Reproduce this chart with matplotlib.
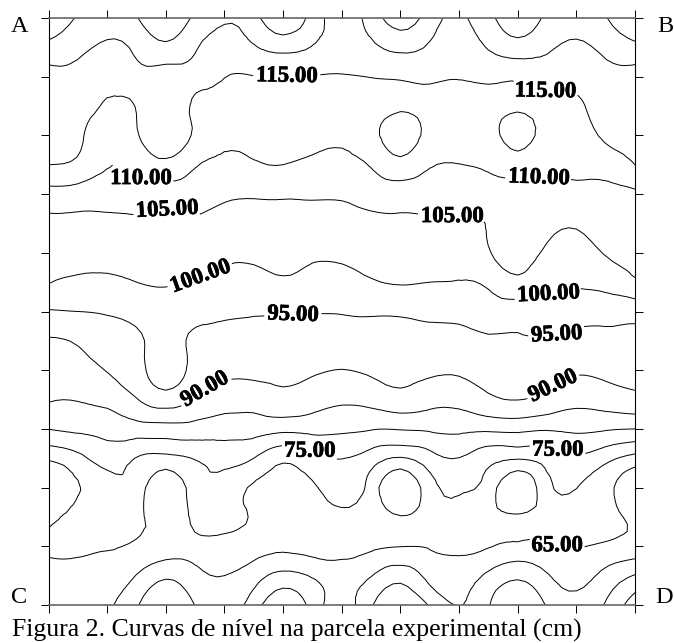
import numpy as np
import matplotlib
matplotlib.use("Agg")
import matplotlib.pyplot as plt
import matplotlib.patheffects as pe
import matplotlib.tri as mtri

plt.rcParams["font.family"] = ["Liberation Serif", "DejaVu Serif"]
plt.rcParams["font.weight"] = "bold"

# grid positions, half a tick apart
xgrid = np.arange(21) * 0.5
ygrid = np.arange(21) * 0.5

levels = [50, 55, 60, 65, 70, 75, 80, 85, 90, 95, 100, 105, 110, 115, 120, 125]

# heights (cm), one list per column, left to right,
# each one going from the top edge (A-B) to the bottom edge (C-D)
z_cols = [
    [129, 123.5, 118.3, 118, 117.5, 115, 108.1, 104, 102.1, 100.2, 94.6, 89.5, 87.4, 85.3, 80.1, 70.7, 65.5, 68.8, 70.6, 68.5, 66.5],
    [124.5, 121.3, 118.5, 117, 115.9, 113.9, 107.7, 104, 101.9, 99.2, 95, 90.5, 88.1, 85.2, 81, 73.5, 69.8, 71, 70.9, 68.5, 66.8],
    [122, 119.2, 116.8, 114.4, 112.5, 110.4, 107, 104, 101.5, 99.2, 95.5, 92.5, 90.2, 86.5, 81.7, 77, 72.5, 71.5, 70.3, 68, 65.8],
    [124.7, 121, 118.2, 115.2, 114.7, 111.3, 107.7, 104, 101.8, 100, 97, 94.1, 93.5, 89.7, 82.8, 74.8, 72.5, 71.5, 69.3, 64.8, 60.5],
    [128.5, 123.8, 118, 117.8, 116.8, 114, 107.2, 104, 102, 100.3, 98, 96.5, 96.8, 92.8, 83, 73.5, 66, 67, 67.8, 60.8, 56.5],
    [124, 120.5, 117.3, 114.2, 114.5, 110.5, 107, 104.3, 102.2, 99.7, 97, 94, 93.5, 89.5, 83, 75.3, 72.5, 71, 68.2, 63.5, 60.1],
    [120.6, 117.8, 115.1, 113, 111.2, 108.8, 105.8, 103.2, 101, 98.8, 95.8, 93.4, 91, 87.6, 82, 77, 72.5, 71, 68.5, 65, 62.5],
    [123.2, 119.5, 114.9, 113.1, 111.5, 109.5, 105.5, 103.2, 101.2, 98.2, 95.4, 93.2, 91.2, 87.2, 82, 75, 69.5, 69.6, 67.5, 62.2, 57.5],
    [129, 121.7, 114.9, 113.5, 112, 110, 105.6, 103.3, 101.4, 99.4, 95.4, 93.3, 91.4, 88.5, 81.4, 71, 67.5, 66.9, 66, 58.5, 50.5],
    [123, 119.7, 114.9, 113.2, 111.8, 108.9, 105.6, 103, 100.8, 98.3, 95.2, 93, 90.7, 87.1, 81.6, 73.6, 69.3, 68, 67, 60.5, 57],
    [118, 117.8, 114.7, 112.9, 111, 108.5, 105.6, 103.2, 101, 98.2, 95.3, 92.5, 89.9, 85.8, 81, 75.1, 72.2, 69.3, 67.4, 62.2, 62],
    [122, 118.9, 115.1, 113.5, 113.7, 110.4, 106.8, 103.7, 101.7, 99.6, 95.6, 92.9, 90.7, 86.7, 80.3, 72.5, 68, 67.9, 65.9, 60.2, 55.6],
    [127.5, 121.3, 115.4, 114.5, 116.8, 113.5, 107.3, 104.1, 102.2, 100.4, 95.7, 93.2, 91.4, 88.3, 80.3, 69.6, 60.5, 65.3, 65.1, 57, 50.5],
    [122.5, 119.3, 115.7, 114, 113.8, 110.5, 106.7, 104.4, 102.1, 100, 96.2, 93.4, 90.9, 86.8, 80.7, 73, 68, 67.7, 65.4, 61.6, 55.5],
    [119.3, 117.4, 115.2, 113.7, 112.2, 109.9, 106.8, 104.5, 102.2, 99.8, 96.5, 93.3, 90.7, 86.6, 81.1, 74.9, 70.7, 68.8, 66.4, 62.4, 60.2],
    [123.5, 120.4, 115.9, 113.9, 113.5, 110.9, 107.5, 105.2, 104.7, 101, 97.6, 94.2, 92, 89, 81, 71.7, 67.7, 66.6, 65.3, 59, 55.4],
    [128, 123, 115.7, 114.4, 116.2, 112.6, 108, 107.5, 106.6, 103.8, 97.5, 94.4, 92.3, 90.1, 81.3, 70.4, 60.8, 65.7, 64, 56, 50.7],
    [124, 121, 116.7, 114.2, 113.5, 111, 108.5, 106.4, 104.3, 101.5, 98, 94.5, 91.8, 88.5, 80.5, 72.2, 68.5, 67, 64.4, 59.5, 55.4],
    [122, 119.1, 116.5, 114.2, 112.8, 111.4, 108.5, 105.5, 103.2, 100.7, 97, 93.7, 90.7, 86.4, 81, 74.2, 70.1, 68, 65.3, 62, 57.8],
    [124.7, 121.3, 118.5, 117.2, 115.8, 112.2, 108.7, 107.2, 105.3, 101.8, 96.8, 93.8, 91.3, 87.3, 80.5, 71.5, 66.5, 67, 64.2, 58.5, 54.6],
    [131, 123.5, 118.5, 118, 117.2, 115, 109.2, 108.2, 106.8, 104.3, 96.8, 93.9, 92.2, 88.5, 80, 68.2, 61, 63.5, 63, 54.7, 47],
]

# where the height labels sit along their lines
label_x = [4.06, 8.47, 1.67, 8.35, 2.03, 6.88, 2.59, 8.54, 4.17, 8.64, 2.71, 8.62, 4.43, 8.67, 8.67]
label_y = [8.94, 8.75, 7.41, 7.30, 6.76, 6.68, 5.59, 5.25, 4.92, 4.69, 3.61, 3.70, 2.57, 2.61, 1.01]
label_rot = [-1, -1, 0, -2, 3, 0, 20, 3, -2, 3, 30, 25, 0, 0, 0]

caption = "Figura 2. Curvas de nível na parcela experimental (cm)"

z = np.array(z_cols).T[::-1]

fig = plt.figure(figsize=(6.74, 6.43), dpi=100)
ax = fig.add_axes([48.5 / 674, 38 / 643, 586.5 / 674, 587 / 643])

# the original lines are smooth, so let matplotlib refine the triangulated grid
gx, gy = np.meshgrid(xgrid, ygrid)
triang = mtri.Triangulation(gx.ravel(), gy.ravel())
refiner = mtri.UniformTriRefiner(triang)
tri_fine, z_fine = refiner.refine_field(z.ravel(), subdiv=2)

cs = ax.tricontour(tri_fine, z_fine, levels=levels, colors="black", linewidths=0.7)
labels = ax.clabel(cs, fmt="%.2f", fontsize=16.5, inline=True, inline_spacing=3,
                   manual=list(zip(label_x, label_y)))
for txt, rot in zip(labels, label_rot):
    txt.set_rotation(rot)
    txt.set_path_effects([pe.withStroke(linewidth=0.5, foreground="black")])

ax.set_xlim(0, 10)
ax.set_ylim(0, 10)
ax.set_xticks(range(11))
ax.set_yticks(range(11))
ax.set_xticklabels([])
ax.set_yticklabels([])
ax.tick_params(length=5.8, width=0.7, top=True, right=True, direction="out")
for side in ["left", "right"]:
    ax.spines[side].set_linewidth(0.8)
for side in ["top", "bottom"]:
    ax.spines[side].set_linewidth(1.2)
    ax.spines[side].set_color("#666666")

# corner letters of the plot
fig.text(11 / 674, 1 - 32 / 643, "A", fontsize=17.5, weight="normal")
fig.text(657 / 674, 1 - 32 / 643, "B", fontsize=17.5, weight="normal")
fig.text(11 / 674, 1 - 603 / 643, "C", fontsize=17.5, weight="normal")
fig.text(655 / 674, 1 - 603 / 643, "D", fontsize=17.5, weight="normal")
fig.text(12 / 674, 1 - 637 / 643, caption, fontsize=18.5, weight="normal")

fig.savefig("out.png", dpi=100)
